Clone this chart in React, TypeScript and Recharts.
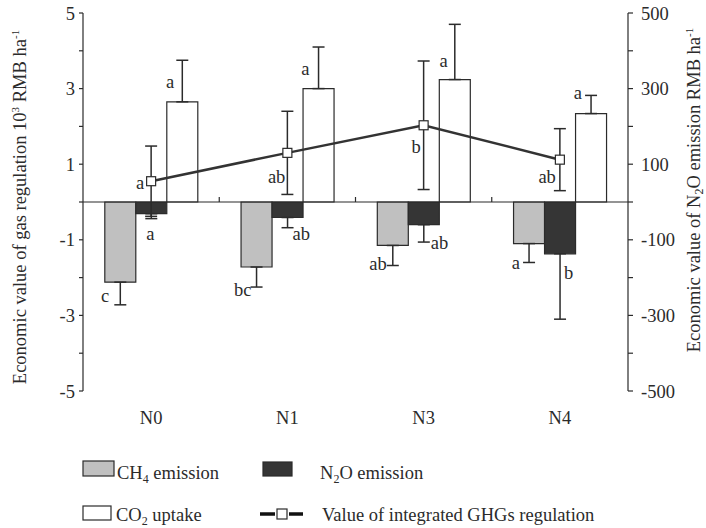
import React from 'react';
import { ComposedChart, Bar, Line, XAxis, YAxis, ErrorBar, ReferenceLine, LabelList, Legend } from 'recharts';

// ---------- data ----------
const categories = ['N0', 'N1', 'N3', 'N4'];
const ch4Values = [-2.12, -1.72, -1.15, -1.1];
const ch4Errors = [0.6, 0.53, 0.53, 0.5];
const n2oValues = [-31, -41, -60, -137];
const n2oErrors = [13, 27, 46, 173];
const co2Values = [2.65, 3.0, 3.24, 2.34];
const co2Errors = [1.1, 1.1, 1.46, 0.48];
const totalValues = [0.55, 1.3, 2.03, 1.12];
const totalErrors = [0.93, 1.1, 1.7, 0.82];
const ch4Letters = ['c', 'bc', 'ab', 'a'];
const n2oLetters = ['a', 'ab', 'ab', 'b'];
const co2Letters = ['a', 'a', 'a', 'a'];
const totalLetters = ['a', 'ab', 'b', 'ab'];
const leftTicks = [-5, -4, -3, -2, -1, 0, 1, 2, 3, 4, 5];
const rightTicks = [-500, -400, -300, -200, -100, 0, 100, 200, 300, 400, 500];

const data = categories.map((name, i) => ({
  name,
  ch4: ch4Values[i],
  ch4Err: [ch4Errors[i], 0],
  n2o: n2oValues[i],
  n2oErr: [n2oErrors[i], 0],
  co2: co2Values[i],
  co2Err: [0, co2Errors[i]],
  total: totalValues[i],
  totalErr: totalErrors[i],
}));

// ---------- layout / style ----------
const W = 706;
const H = 528;
const MARGIN = { top: 13, right: 8, bottom: 97, left: 22 };
const LEFT_AXIS_W = 61;
const RIGHT_AXIS_W = 70;
const X_AXIS_H = 40;
const PLOT_LEFT = MARGIN.left + LEFT_AXIS_W;
const PLOT_RIGHT = W - MARGIN.right - RIGHT_AXIS_W;
const PLOT_TOP = MARGIN.top;
const PLOT_BOTTOM = H - MARGIN.bottom - X_AXIS_H;
const ZERO_Y = (PLOT_TOP + PLOT_BOTTOM) / 2;
const BAND = (PLOT_RIGHT - PLOT_LEFT) / categories.length;

const FONT = '"Liberation Serif", "Times New Roman", serif';
const FS = 18.5;
const INK = '#2b2b2b';

// letter offsets [dx, dy, anchor] relative to bar tip / line point
const ch4LetterPos: [number, number, string][] = [[-11, 14, 'end'], [-5, 22.6, 'end'], [-6, 18.3, 'end'], [-9, 19, 'end']];
const n2oLetterPos: [number, number, string][] = [[-1, 20, 'middle'], [5, 16, 'start'], [7, 18.4, 'start'], [4, 19.4, 'start']];
const co2LetterPos: [number, number, string][] = [[-8, -20, 'end'], [-9, -19.3, 'end'], [-7, -18.6, 'end'], [-9, -20.6, 'end']];
const totalLetterPos: [number, number, string][] = [[-7, 1.7, 'end'], [-2, 24, 'end'], [-3, 21.7, 'end'], [-4, 17.4, 'end']];

function getBox(p: any) {
  const vb = p.viewBox || {};
  const x = p.x ?? vb.x ?? 0;
  const y = p.y ?? vb.y ?? 0;
  const width = p.width ?? vb.width ?? 0;
  const height = p.height ?? vb.height ?? 0;
  return { x: Number(x), y: Number(y), width: Number(width), height: Number(height) };
}

function makeLetter(values: number[], letters: string[], pos: [number, number, string][], isBar: boolean) {
  return (p: any) => {
    let idx = p.index;
    if (idx === undefined || idx === null) idx = values.indexOf(Number(p.value));
    if (idx < 0 || idx >= letters.length) return null;
    const b = getBox(p);
    const cx = b.x + b.width / 2;
    let ty: number;
    if (isBar) {
      const v = values[idx];
      ty = v < 0 ? Math.max(b.y, b.y + b.height) : Math.min(b.y, b.y + b.height);
    } else {
      ty = b.y + b.height / 2;
    }
    const [dx, dy, anchor] = pos[idx];
    return (
      <text
        key={`l-${idx}`}
        x={cx + dx}
        y={ty + dy}
        dy="0.33em"
        textAnchor={anchor as any}
        fontFamily={FONT}
        fontSize={FS}
        fill={INK}
      >
        {letters[idx]}
      </text>
    );
  };
}

const CategoryTick = (props: any) => {
  const { x, y, payload } = props;
  let index = props.index;
  if (index === undefined) index = categories.indexOf(payload.value);
  return (
    <g>
      <text x={x} y={y} dy="0.71em" textAnchor="middle" fontFamily={FONT} fontSize={FS} fill={INK}>
        {payload.value}
      </text>
      {index < categories.length - 1 && (
        <line x1={x + BAND / 2} x2={x + BAND / 2} y1={ZERO_Y} y2={ZERO_Y - 5} stroke={INK} strokeWidth={1.2} />
      )}
    </g>
  );
};

const LeftTick = (props: any) => {
  const { x, y, payload } = props;
  if (Math.abs(payload.value) % 2 !== 1) return <g />;
  return (
    <text x={x} y={y} dy="0.355em" textAnchor="end" fontFamily={FONT} fontSize={FS} fill={INK}>
      {payload.value}
    </text>
  );
};

const RightTick = (props: any) => {
  const { x, y, payload } = props;
  if (Math.abs(payload.value / 100) % 2 !== 1) return <g />;
  return (
    <text x={x} y={y} dy="0.355em" textAnchor="start" fontFamily={FONT} fontSize={FS} fill={INK}>
      {payload.value}
    </text>
  );
};

const LeftTitle = () => (
  <text transform="translate(26, 207) rotate(-90)" textAnchor="middle" fontFamily={FONT} fontSize={FS} fill={INK}>
    Economic value of gas regulation 10
    <tspan fontSize={11} dy={-7}>3</tspan>
    <tspan dy={7}> RMB ha</tspan>
    <tspan fontSize={11} dy={-7}>-1</tspan>
  </text>
);

const RightTitle = () => (
  <text transform="translate(700, 190) rotate(-90)" textAnchor="middle" fontFamily={FONT} fontSize={FS} fill={INK}>
    Economic value of N
    <tspan fontSize={12} dy={3}>2</tspan>
    <tspan dy={-3}>O emission RMB ha</tspan>
    <tspan fontSize={11} dy={-7}>-1</tspan>
  </text>
);

const SquareDot = (props: any) => {
  const { cx, cy, index } = props;
  if (cx == null || cy == null) return <g key={`d-${index}`} />;
  return <rect key={`d-${index}`} x={cx - 4.5} y={cy - 4.5} width={9} height={9} fill="#fff" stroke={INK} strokeWidth={1.2} />;
};

const LEG_TOP = 450;
const LegendArt = () => {
  const r1 = 479 - LEG_TOP;
  const r2 = 521 - LEG_TOP;
  const t = { fontFamily: FONT, fontSize: FS, fill: INK } as any;
  return (
    <svg width={W} height={78} style={{ display: 'block', overflow: 'visible' }}>
      <rect x={83} y={461 - LEG_TOP} width={31} height={15} fill="#c0c0c0" stroke={INK} strokeWidth={1.2} />
      <text x={117} y={r1} {...t}>
        CH<tspan fontSize={12} dy={4}>4</tspan>
        <tspan dy={-4}> emission</tspan>
      </text>
      <rect x={263} y={462 - LEG_TOP} width={29} height={14} fill="#353535" stroke={INK} strokeWidth={1.2} />
      <text x={320} y={r1} {...t}>
        N<tspan fontSize={12} dy={4}>2</tspan>
        <tspan dy={-4}>O emission</tspan>
      </text>
      <rect x={83} y={506 - LEG_TOP} width={28} height={14} fill="#fff" stroke={INK} strokeWidth={1.2} />
      <text x={116} y={r2} {...t}>
        CO<tspan fontSize={12} dy={4}>2</tspan>
        <tspan dy={-4}> uptake</tspan>
      </text>
      <line x1={260} x2={275} y1={514 - LEG_TOP} y2={514 - LEG_TOP} stroke="#111" strokeWidth={3.5} />
      <line x1={289} x2={303} y1={514 - LEG_TOP} y2={514 - LEG_TOP} stroke="#111" strokeWidth={3.5} />
      <rect x={277} y={509 - LEG_TOP} width={10} height={10} fill="#fff" stroke={INK} strokeWidth={1.2} />
      <text x={322} y={r2} {...t}>Value of integrated GHGs regulation</text>
    </svg>
  );
};

export default function App() {
  return (
    <div style={{ position: 'absolute', left: 0, top: 0, width: W, height: H, background: '#fff' }}>
      <ComposedChart width={W} height={H} data={data} margin={MARGIN} barCategoryGap="16%" barGap={0}>
        <XAxis
          dataKey="name"
          height={X_AXIS_H}
          axisLine={false}
          tickLine={false}
          tickSize={6}
          tickMargin={14}
          tick={<CategoryTick />}
          interval={0}
        />
        <YAxis
          yAxisId="left"
          orientation="left"
          width={LEFT_AXIS_W}
          domain={[-5, 5]}
          ticks={leftTicks}
          interval={0}
          tickSize={4}
          tickMargin={4}
          axisLine={{ stroke: INK, strokeWidth: 1.2 }}
          tickLine={{ stroke: INK, strokeWidth: 1.2 }}
          tick={<LeftTick />}
          label={<LeftTitle />}
        />
        <YAxis
          yAxisId="right"
          orientation="right"
          width={RIGHT_AXIS_W}
          domain={[-500, 500]}
          ticks={rightTicks}
          interval={0}
          tickSize={5}
          tickMargin={8}
          axisLine={{ stroke: INK, strokeWidth: 1.2 }}
          tickLine={{ stroke: INK, strokeWidth: 1.2 }}
          tick={<RightTick />}
          label={<RightTitle />}
        />
        <ReferenceLine yAxisId="left" y={0} stroke={INK} strokeWidth={1.2} />
        <Bar yAxisId="left" dataKey="ch4" fill="#c0c0c0" stroke={INK} strokeWidth={1.2} isAnimationActive={false}>
          <ErrorBar dataKey="ch4Err" width={6} stroke={INK} strokeWidth={1.5} direction="y" />
          <LabelList dataKey="ch4" content={makeLetter(ch4Values, ch4Letters, ch4LetterPos, true)} />
        </Bar>
        <Bar yAxisId="right" dataKey="n2o" fill="#353535" stroke={INK} strokeWidth={1.2} isAnimationActive={false}>
          <ErrorBar dataKey="n2oErr" width={6} stroke={INK} strokeWidth={1.5} direction="y" />
          <LabelList dataKey="n2o" content={makeLetter(n2oValues, n2oLetters, n2oLetterPos, true)} />
        </Bar>
        <Bar yAxisId="left" dataKey="co2" fill="#ffffff" stroke={INK} strokeWidth={1.2} isAnimationActive={false}>
          <ErrorBar dataKey="co2Err" width={6} stroke={INK} strokeWidth={1.5} direction="y" />
          <LabelList dataKey="co2" content={makeLetter(co2Values, co2Letters, co2LetterPos, true)} />
        </Bar>
        <Line
          yAxisId="left"
          dataKey="total"
          stroke="#333"
          strokeWidth={2.5}
          dot={<SquareDot />}
          activeDot={false}
          isAnimationActive={false}
        >
          <ErrorBar dataKey="totalErr" width={6} stroke={INK} strokeWidth={1.5} direction="y" />
          <LabelList dataKey="total" content={makeLetter(totalValues, totalLetters, totalLetterPos, false)} />
        </Line>
        <Legend
          verticalAlign="middle"
          align="center"
          layout="horizontal"
          wrapperStyle={{ position: 'absolute', left: 0, top: LEG_TOP, width: W, height: 78 }}
          content={() => <LegendArt />}
        />
      </ComposedChart>
    </div>
  );
}
